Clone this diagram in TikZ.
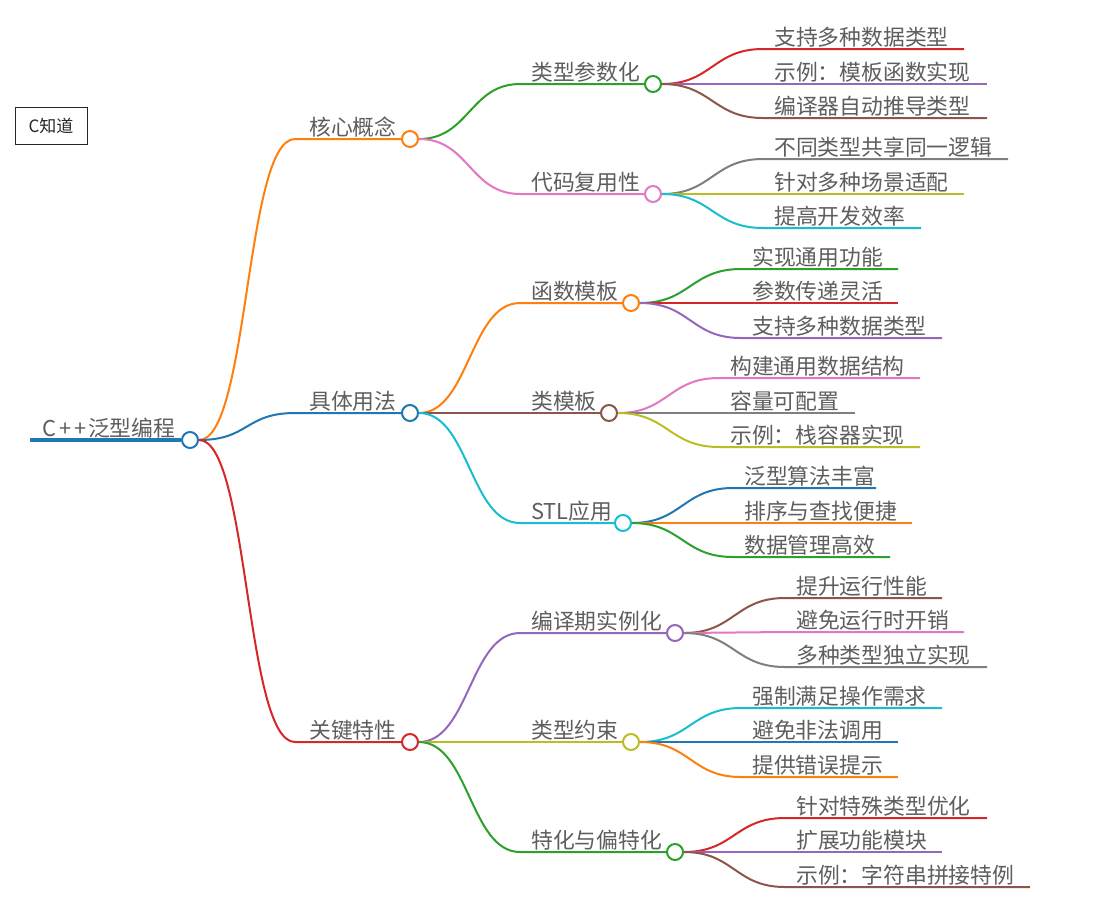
\documentclass[tikz,border=0pt]{standalone}
\usepackage{fontspec}
\newfontfamily\cjk{Noto Sans CJK SC}
\definecolor{cblue}{HTML}{1F77B4}
\definecolor{corange}{HTML}{FF7F0E}
\definecolor{cgreen}{HTML}{2CA02C}
\definecolor{cred}{HTML}{D62728}
\definecolor{cpurple}{HTML}{9467BD}
\definecolor{cbrown}{HTML}{8C564B}
\definecolor{cpink}{HTML}{E377C2}
\definecolor{cgrey}{HTML}{7F7F7F}
\definecolor{colive}{HTML}{BCBD22}
\definecolor{ccyan}{HTML}{17BECF}
\definecolor{txt}{HTML}{5E5E5E}
\tikzset{
  lbl/.style={inner sep=0pt, text=txt, font=\cjk\fontsize{21.8}{22}\selectfont},
  dot/.style={circle, fill=white, line width=2pt, minimum size=16pt, inner sep=0pt},
  conn/.style={line width=2pt},
}
\newcommand\midnode[8][11]{% [text offset] name, parent, xs, y, xc, color, text
  \coordinate (#2s) at (#4,#5);
  \node[dot, draw=#7] (#2) at (#6,#5) {};
  \node[lbl, anchor=base west] (#2t) at (#4+#1,#5-4) {#8};
  \draw[conn,#7] (#3.east) .. controls +(50,0) and +(-50,0) .. (#2s) -- (#2.west);
}
\newcommand\leafnode[7]{% name, parent, xs, y, xe, color, text
  \coordinate (#1s) at (#3,#4);
  \coordinate (#1e) at (#5,#4);
  \node[lbl, anchor=base west] (#1) at (#3+11,#4-4) {#7};
  \draw[conn,#6] (#2.east) .. controls +(50,0) and +(-50,0) .. (#1s) -- (#1e);
}
\begin{document}
\begin{tikzpicture}[x=1pt,y=-1pt]
\useasboundingbox (0,0) rectangle (1113,908);
\fill[white] (0,0) rectangle (1113,908);
% logo box
\node[draw=black!85, line width=0.8pt, minimum width=72pt, minimum height=37pt, inner sep=0pt,
      font=\cjk\fontsize{17}{17}\selectfont, text=black!85] (logo) at (51,126) {C知道};
% root
\coordinate (roots) at (30,440);
\node[dot, draw=cblue] (root) at (190,440) {};
\node[lbl, anchor=base west] (roott) at (42,436)
  {\makebox[16pt][l]{C}\makebox[15pt][c]{+}\makebox[15pt][c]{+}泛型编程};
\draw[line width=3.5pt, cblue] (roots) -- (root.west);
% level 1
\midnode[14]{k1}{root}{295}{139}{410}{corange}{核心概念}
\midnode[14]{k2}{root}{295}{413}{410}{cblue}{具体用法}
\midnode[14]{k3}{root}{295}{742}{410}{cred}{关键特性}
% level 2
\midnode{A}{k1}{520}{84}{653}{cgreen}{类型参数化}
\midnode{B}{k1}{520}{194}{653}{cpink}{代码复用性}
\midnode{C}{k2}{520}{303}{631}{corange}{函数模板}
\midnode{D}{k2}{520}{413}{609}{cbrown}{类模板}
\midnode{E}{k2}{520}{523}{623}{ccyan}{STL应用}
\midnode{F}{k3}{520}{633}{675}{cpurple}{编译期实例化}
\midnode{G}{k3}{520}{742}{631}{colive}{类型约束}
\midnode{H}{k3}{520}{852}{675}{cgreen}{特化与偏特化}
% leaves
\leafnode{a1}{A}{763}{49}{964}{cred}{支持多种数据类型}
\leafnode{a2}{A}{763}{84}{987}{cpurple}{示例：模板函数实现}
\leafnode{a3}{A}{763}{118}{987}{cbrown}{编译器自动推导类型}
\leafnode{b1}{B}{763}{159}{1008}{cgrey}{不同类型共享同一逻辑}
\leafnode{b2}{B}{763}{194}{964}{colive}{针对多种场景适配}
\leafnode{b3}{B}{763}{228}{921}{ccyan}{提高开发效率}
\leafnode{c1}{C}{741}{269}{898}{cgreen}{实现通用功能}
\leafnode{c2}{C}{741}{303}{898}{cred}{参数传递灵活}
\leafnode{c3}{C}{741}{338}{942}{cpurple}{支持多种数据类型}
\leafnode{d1}{D}{719}{378}{920}{cpink}{构建通用数据结构}
\leafnode{d2}{D}{719}{413}{855}{cgrey}{容量可配置}
\leafnode{d3}{D}{719}{447}{920}{colive}{示例：栈容器实现}
\leafnode{e1}{E}{733}{488}{876}{cblue}{泛型算法丰富}
\leafnode{e2}{E}{733}{523}{912}{corange}{排序与查找便捷}
\leafnode{e3}{E}{733}{557}{890}{cgreen}{数据管理高效}
\leafnode{f1}{F}{785}{598}{942}{cbrown}{提升运行性能}
\leafnode{f2}{F}{785}{632}{964}{cpink}{避免运行时开销}
\leafnode{f3}{F}{785}{667}{987}{cgrey}{多种类型独立实现}
\leafnode{g1}{G}{741}{708}{942}{ccyan}{强制满足操作需求}
\leafnode{g2}{G}{741}{742}{898}{cblue}{避免非法调用}
\leafnode{g3}{G}{741}{777}{898}{corange}{提供错误提示}
\leafnode{h1}{H}{785}{818}{987}{cred}{针对特殊类型优化}
\leafnode{h2}{H}{785}{852}{942}{cpurple}{扩展功能模块}
\leafnode{h3}{H}{785}{887}{1030}{cbrown}{示例：字符串拼接特例}
\end{tikzpicture}
\end{document}
